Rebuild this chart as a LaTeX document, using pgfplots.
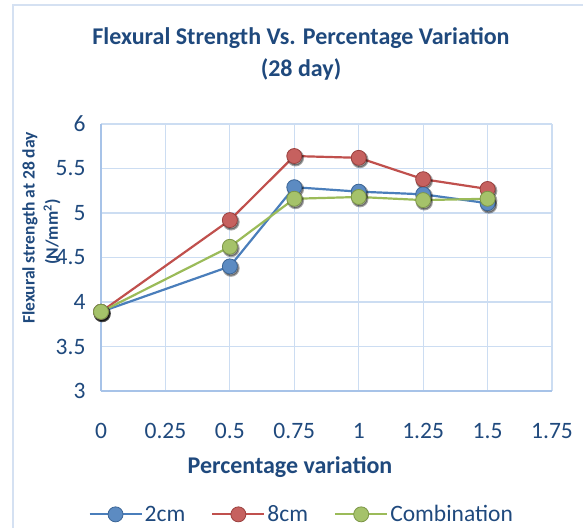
\documentclass[border=0pt]{standalone}
\usepackage{pgfplots}
\pgfplotsset{compat=1.18}
\usepackage{pgfplotstable}
\usepackage{fontspec}
\setmainfont{Carlito}
\definecolor{txt}{HTML}{1F497D}
\definecolor{grd}{HTML}{CCDDF2}
\definecolor{axl}{HTML}{A7C3E8}
\definecolor{frm}{HTML}{D5E1F2}
\definecolor{cblue}{HTML}{4A7EBB}
\definecolor{cred}{HTML}{C0504D}
\definecolor{cgreen}{HTML}{9BBB59}
\pgfplotstableread{
x    a     b     c
0    3.89  3.89  3.89
0.5  4.40  4.92  4.62
0.75 5.29  5.64  5.16
1.0  5.24  5.62  5.18
1.25 5.21  5.38  5.145
1.5  5.11  5.27  5.16
}\data
\begin{document}
\begin{tikzpicture}[x=1pt,y=1pt]
\path[use as bounding box] (0,0) rectangle (583,528);
\draw[frm, line width=2.5pt] (13,0) -- (13,523) -- (583,523);
\node[txt, font=\fontsize{24}{32}\selectfont\bfseries, align=center] at (301,474) {Flexural Strength Vs. Percentage Variation\\(28 day)};
\node[txt, font=\fontsize{17.5}{20}\selectfont\bfseries, rotate=90] at (30,300) {Flexural strength at 28 day};
\node[txt, font=\fontsize{17.5}{20}\selectfont\bfseries, rotate=90] at (52,296) {(N/mm\textsuperscript{2})};
\node[txt, font=\fontsize{24}{28}\selectfont\bfseries] at (290,61) {Percentage variation};
\begin{axis}[
  at={(101pt,137pt)}, anchor=south west,
  scale only axis, width=451pt, height=267pt,
  xmin=0, xmax=1.75, ymin=3, ymax=6,
  xtick={0,0.25,...,1.75}, ytick={3,3.5,...,6},
  xticklabels={0,0.25,0.5,0.75,1,1.25,1.5,1.75},
  yticklabels={3,3.5,4,4.5,5,5.5,6},
  major tick length=0pt,
  grid=major,
  major grid style={grd, line width=1.2pt},
  axis line style={draw=none},
  ticklabel style={txt, font=\fontsize{23.5}{27}\selectfont},
  xticklabel style={yshift=-29pt},
  yticklabel style={xshift=-12pt},
  /pgf/number format/assume math mode=true,
  legend columns=3,
  legend style={at={(0.445,-0.462)}, anchor=center, draw=none, fill=none,
    font=\fontsize{23.5}{27}\selectfont, text=txt,
    /tikz/every even column/.append style={column sep=24pt}},
  legend image code/.code={\draw[mark repeat=2,mark phase=2] plot coordinates {(0pt,0pt)(26pt,0pt)(52pt,0pt)};},
  every axis plot/.append style={line width=2.2pt},
  clip=false,
]
\draw[axl, line width=1.5pt] (axis cs:0,3) -- (axis cs:0,6);
\draw[axl, line width=1.5pt] (axis cs:0,3) -- (axis cs:1.75,3);
\addplot[forget plot, only marks, mark=*, mark size=7.5pt, mark options={draw=none, fill=black, opacity=0.35, xshift=1.2pt, yshift=-1.8pt}] table[x=x,y=a] {\data};
\addplot[forget plot, only marks, mark=*, mark size=7.5pt, mark options={draw=none, fill=black, opacity=0.35, xshift=1.2pt, yshift=-1.8pt}] table[x=x,y=b] {\data};
\addplot[forget plot, only marks, mark=*, mark size=7.5pt, mark options={draw=none, fill=black, opacity=0.35, xshift=1.2pt, yshift=-1.8pt}] table[x=x,y=c] {\data};
\addplot[cblue, mark=*, mark size=7.5pt, mark options={fill=cblue!90!white, draw=cblue!80!black, line width=0.8pt}] table[x=x,y=a] {\data};
\addlegendentry{2cm}
\addplot[cred, mark=*, mark size=7.5pt, mark options={fill=cred!90!white, draw=cred!80!black, line width=0.8pt}] table[x=x,y=b] {\data};
\addlegendentry{8cm}
\addplot[cgreen, mark=*, mark size=7.5pt, mark options={fill=cgreen!90!white, draw=cgreen!80!black, line width=0.8pt}] table[x=x,y=c] {\data};
\addlegendentry{Combination}
\end{axis}
\end{tikzpicture}
\end{document}
